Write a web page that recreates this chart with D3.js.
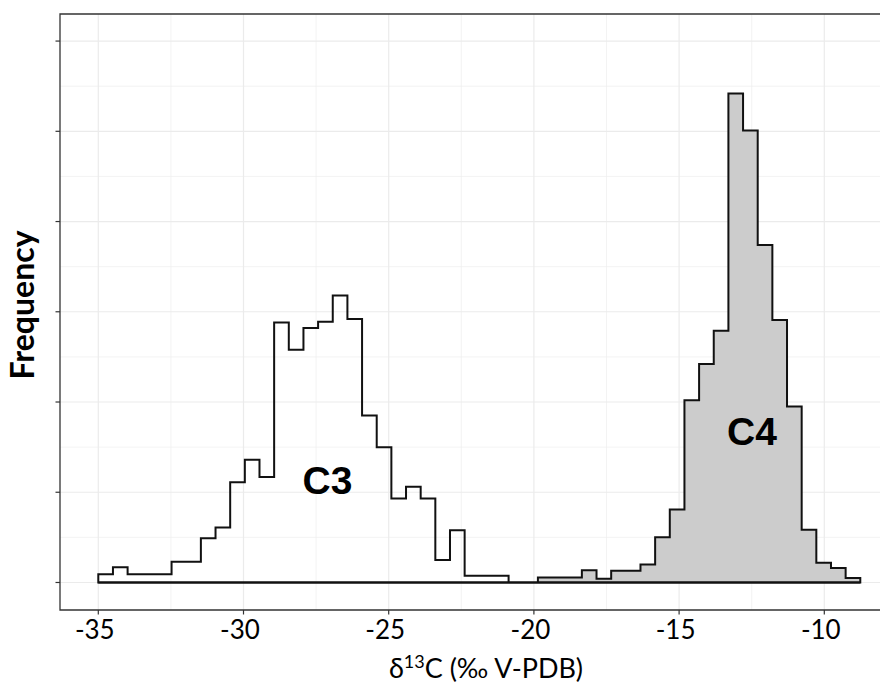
<!DOCTYPE html>
<html>
<head>
<meta charset="utf-8">
<script src="https://cdn.jsdelivr.net/npm/d3@7"></script>
<style>
  html, body { margin: 0; padding: 0; background: #fff; }
  svg { display: block; }
</style>
</head>
<body>
<svg id="chart" width="880" height="684"></svg>
<script>
// ---------------- data ----------------
const binStart = -35.0;
const binWidth = 0.5046;
// Frequencies per bin (arbitrary frequency units), 52 bins from -35 to ~-8.76
const c3Counts = [0.9, 1.7, 0.9, 0.9, 0.9, 2.3, 2.3, 4.9, 6.1, 11.1,
                  13.6, 11.7, 28.8, 25.8, 28.2, 28.9, 31.8, 29.2, 18.5, 15.0,
                  9.3, 10.6, 9.3, 2.5, 5.8, 0.75, 0.75, 0.75, 0, 0,
                  0, 0, 0, 0, 0, 0, 0, 0, 0, 0,
                  0, 0, 0, 0, 0, 0, 0, 0, 0, 0,
                  0, 0];
const c4Counts = [0, 0, 0, 0, 0, 0, 0, 0, 0, 0,
                  0, 0, 0, 0, 0, 0, 0, 0, 0, 0,
                  0, 0, 0, 0, 0, 0, 0, 0, 0, 0,
                  0.55, 0.55, 0.55, 1.35, 0.4, 1.3, 1.3, 2.0, 5.0, 8.1,
                  20.2, 24.2, 27.9, 54.2, 50.1, 37.4, 29.1, 19.5, 5.85, 2.2,
                  1.6, 0.5];
const xTicks = [-35, -30, -25, -20, -15, -10];
const xMinor = [-32.5, -27.5, -22.5, -17.5, -12.5, -7.5];
const yTicks = [0, 10, 20, 30, 40, 50, 60];
const yMinor = [5, 15, 25, 35, 45, 55];
const groupLabels = [
  { text: "C3", x: -27.11, y: 9.75 },
  { text: "C4", x: -12.49, y: 15.2 }
];

// ---------------- layout ----------------
const panel = { left: 60, right: 882, top: 14, bottom: 610 };
const svg = d3.select("#chart");

const x = d3.scaleLinear().domain([-35, -10]).range([98.3, 824.3]);
const y = d3.scaleLinear().domain([-3.05, 63.0]).range([panel.bottom, panel.top]);

// grid
const grid = svg.append("g");
grid.selectAll(".ymin").data(yMinor).join("line")
  .attr("x1", panel.left).attr("x2", panel.right)
  .attr("y1", d => y(d)).attr("y2", d => y(d))
  .attr("stroke", "#eeeeee").attr("stroke-width", 0.7);
grid.selectAll(".xmin").data(xMinor).join("line")
  .attr("y1", panel.top).attr("y2", panel.bottom)
  .attr("x1", d => x(d)).attr("x2", d => x(d))
  .attr("stroke", "#eeeeee").attr("stroke-width", 0.7);
grid.selectAll(".ymaj").data(yTicks).join("line")
  .attr("x1", panel.left).attr("x2", panel.right)
  .attr("y1", d => y(d)).attr("y2", d => y(d))
  .attr("stroke", "#ebebeb").attr("stroke-width", 1.2);
grid.selectAll(".xmaj").data(xTicks).join("line")
  .attr("y1", panel.top).attr("y2", panel.bottom)
  .attr("x1", d => x(d)).attr("x2", d => x(d))
  .attr("stroke", "#ebebeb").attr("stroke-width", 1.2);

// histogram outlines
function stepPoints(counts) {
  const pts = [[binStart, 0]];
  counts.forEach((c, i) => {
    const x0 = binStart + i * binWidth, x1 = x0 + binWidth;
    pts.push([x0, c], [x1, c]);
  });
  pts.push([binStart + counts.length * binWidth, 0]);
  return pts;
}
const line = d3.line().x(d => x(d[0])).y(d => y(d[1]));

svg.append("path")
  .attr("d", line(stepPoints(c4Counts)) + "Z")
  .attr("fill", "#cccccc")
  .attr("stroke", "#111")
  .attr("stroke-width", 2)
  .attr("stroke-linejoin", "miter");
svg.append("path")
  .attr("d", line(stepPoints(c3Counts)) + "Z")
  .attr("fill", "none")
  .attr("stroke", "#111")
  .attr("stroke-width", 2)
  .attr("stroke-linejoin", "miter");

// group labels
svg.selectAll(".glabel").data(groupLabels).join("text")
  .attr("x", d => x(d.x)).attr("y", d => y(d.y))
  .attr("text-anchor", "middle")
  .attr("font-family", "'Liberation Sans', Arial, sans-serif")
  .attr("font-weight", "bold")
  .attr("font-size", 39)
  .attr("fill", "#000")
  .text(d => d.text);

// panel border (top, left, bottom)
svg.append("path")
  .attr("d", `M${panel.right},${panel.top}H${panel.left}V${panel.bottom}H${panel.right}`)
  .attr("fill", "none").attr("stroke", "#333").attr("stroke-width", 1.3);

// x ticks
const xAxisG = svg.append("g");
xAxisG.selectAll("line").data(xTicks).join("line")
  .attr("x1", d => x(d)).attr("x2", d => x(d))
  .attr("y1", panel.bottom).attr("y2", panel.bottom + 4.5)
  .attr("stroke", "#333").attr("stroke-width", 1.2);
xAxisG.selectAll("text").data(xTicks).join("text")
  .attr("x", d => x(d) - 3.5).attr("y", 638.5)
  .attr("text-anchor", "middle")
  .attr("font-family", "Lato, 'Open Sans', sans-serif")
  .attr("font-size", 26)
  .attr("fill", "#000")
  .text(d => d);

// y ticks (no labels)
svg.append("g").selectAll("line").data(yTicks).join("line")
  .attr("x1", panel.left - 4.5).attr("x2", panel.left)
  .attr("y1", d => y(d)).attr("y2", d => y(d))
  .attr("stroke", "#333").attr("stroke-width", 1.2);

// axis titles
const xt = svg.append("text")
  .attr("x", 486).attr("y", 677.5)
  .attr("text-anchor", "middle")
  .attr("font-family", "Lato, 'Open Sans', sans-serif")
  .attr("font-size", 27)
  .attr("fill", "#000");
xt.append("tspan").text("δ");
xt.append("tspan").attr("font-size", 18).attr("dy", -10).text("13");
xt.append("tspan").attr("dy", 10).text("C (‰ V-PDB)");

svg.append("text")
  .attr("transform", "translate(34,305) rotate(-90)")
  .attr("text-anchor", "middle")
  .attr("font-family", "Lato, 'Open Sans', sans-serif")
  .attr("font-weight", "bold")
  .attr("font-size", 32)
  .attr("fill", "#000")
  .text("Frequency");
</script>
</body>
</html>
